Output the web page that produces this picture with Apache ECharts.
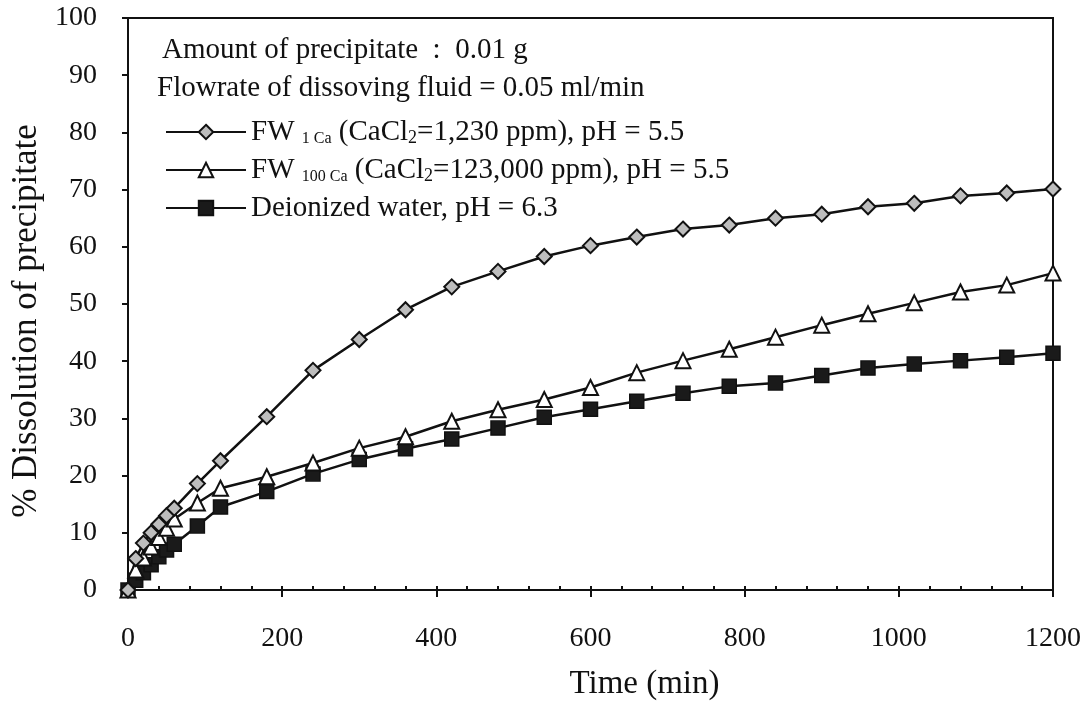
<!DOCTYPE html>
<html>
<head>
<meta charset="utf-8">
<script src="https://cdn.jsdelivr.net/npm/echarts@6/dist/echarts.min.js"></script>
<style>
html,body{margin:0;padding:0;background:#fff;}
#chart{width:1089px;height:719px;}
</style>
</head>
<body>
<div id="chart"></div>
<script>
// Time (min)
const times = [0, 10, 20, 30, 40, 50, 60, 90, 120, 180, 240, 300, 360, 420, 480, 540, 600, 660, 720, 780, 840, 900, 960, 1020, 1080, 1140, 1200];
// % Dissolution of precipitate
const fw1Ca = [0, 5.5, 8.2, 10.0, 11.5, 13.0, 14.3, 18.6, 22.6, 30.3, 38.4, 43.8, 49.0, 53.0, 55.7, 58.3, 60.2, 61.7, 63.1, 63.8, 65.0, 65.7, 67.0, 67.6, 68.9, 69.4, 70.1];
const fw100Ca = [0, 3.5, 5.6, 7.5, 9.2, 10.8, 12.4, 15.2, 17.8, 19.8, 22.2, 24.8, 26.8, 29.5, 31.5, 33.3, 35.4, 38.0, 40.1, 42.1, 44.2, 46.3, 48.3, 50.2, 52.1, 53.3, 55.4];
const deionized = [0, 1.7, 3.0, 4.4, 5.8, 7.0, 8.0, 11.2, 14.5, 17.2, 20.3, 22.8, 24.7, 26.4, 28.3, 30.2, 31.6, 33.0, 34.4, 35.6, 36.2, 37.5, 38.8, 39.5, 40.1, 40.7, 41.4];
const xTicks = [0, 200, 400, 600, 800, 1000, 1200];
const yTicks = [0, 10, 20, 30, 40, 50, 60, 70, 80, 90, 100];

const FONT = '"Liberation Serif", "DejaVu Serif", serif';
const pair = (xs, ys) => xs.map((x, i) => [x, ys[i]]);

const legendText = {
  'FW1': '{n|FW }{s|1 Ca}{n| (CaCl}{t|2}{n|=1,230 ppm), pH = 5.5}',
  'FW100': '{n|FW }{s|100 Ca}{n| (CaCl}{t|2}{n|=123,000 ppm), pH = 5.5}',
  'DI': '{n|Deionized water, pH = 6.3}'
};

const chart = echarts.init(document.getElementById('chart'), null, {renderer: 'canvas'});
chart.setOption({
  backgroundColor: '#ffffff',
  animation: false,
  grid: {left: 128, right: 36, top: 18, bottom: 129, show: true, borderColor: '#111', borderWidth: 2, backgroundColor: 'transparent'},
  xAxis: [{
    type: 'value', min: xTicks[0], max: xTicks[xTicks.length - 1], interval: 200,
    axisLine: {show: true, lineStyle: {color: '#111', width: 2}},
    axisTick: {show: true, inside: false, length: 7, lineStyle: {color: '#111', width: 2}},
    minorTick: {show: false},
    splitLine: {show: false},
    axisLabel: {color: '#111', fontFamily: FONT, fontSize: 28, margin: 35, formatter: v => String(v)},
    name: 'Time (min)', nameLocation: 'middle', nameGap: 78,
    nameTextStyle: {color: '#111', fontFamily: FONT, fontSize: 33, padding: [0, 0, 0, 108]}
  }, {
    type: 'value', min: xTicks[0], max: xTicks[xTicks.length - 1], interval: 200, position: 'bottom',
    axisLine: {show: false},
    axisTick: {show: true, inside: true, length: 4, lineStyle: {color: '#111', width: 2}},
    minorTick: {show: true, splitNumber: 5, length: 4, lineStyle: {color: '#111', width: 2}},
    splitLine: {show: false},
    axisLabel: {show: false}
  }],
  yAxis: {
    type: 'value', min: yTicks[0], max: yTicks[yTicks.length - 1], interval: 10,
    axisLine: {show: true, lineStyle: {color: '#111', width: 2}},
    axisTick: {show: true, inside: false, length: 6, lineStyle: {color: '#111', width: 2}},
    splitLine: {show: false},
    axisLabel: {color: '#111', fontFamily: FONT, fontSize: 28, margin: 31},
    name: '% Dissolution of precipitate', nameLocation: 'middle', nameGap: 84, nameRotate: 90,
    nameTextStyle: {color: '#111', fontFamily: FONT, fontSize: 35, padding: [0, 34, 0, 0]}
  },
  legend: {
    show: true, orient: 'vertical', left: 160, top: 113, itemWidth: 80, itemHeight: 18, itemGap: 9,
    data: ['FW1', 'FW100', 'DI'],
    formatter: name => legendText[name],
    textStyle: {
      color: '#111', fontFamily: FONT, fontSize: 29,
      rich: {
        n: {fontFamily: FONT, fontSize: 29, color: '#111', lineHeight: 30, verticalAlign: 'bottom'},
        s: {fontFamily: FONT, fontSize: 16, color: '#111', lineHeight: 16, verticalAlign: 'bottom'},
        t: {fontFamily: FONT, fontSize: 18, color: '#111', lineHeight: 17, verticalAlign: 'bottom'}
      }
    }
  },
  graphic: [
    {type: 'text', left: 162, top: 36, style: {text: 'Amount of precipitate  :  0.01 g', font: '29px ' + FONT, fill: '#111'}},
    {type: 'text', left: 157, top: 74, style: {text: 'Flowrate of dissoving fluid = 0.05 ml/min', font: '29px ' + FONT, fill: '#111'}}
  ],
  series: [
    {
      name: 'DI', type: 'line', data: pair(times, deionized),
      symbol: 'rect', symbolSize: 14,
      lineStyle: {color: '#111', width: 2.5},
      itemStyle: {color: '#1a1a1a', borderColor: '#111', borderWidth: 1.5}
    },
    {
      name: 'FW100', type: 'line', data: pair(times, fw100Ca),
      symbol: 'triangle', symbolSize: 15,
      lineStyle: {color: '#111', width: 2.5},
      itemStyle: {color: '#ffffff', borderColor: '#111', borderWidth: 2}
    },
    {
      name: 'FW1', type: 'line', data: pair(times, fw1Ca),
      symbol: 'diamond', symbolSize: 15,
      lineStyle: {color: '#111', width: 2.5},
      itemStyle: {color: '#bdbdbd', borderColor: '#111', borderWidth: 2}
    }
  ]
});
</script>
</body>
</html>
